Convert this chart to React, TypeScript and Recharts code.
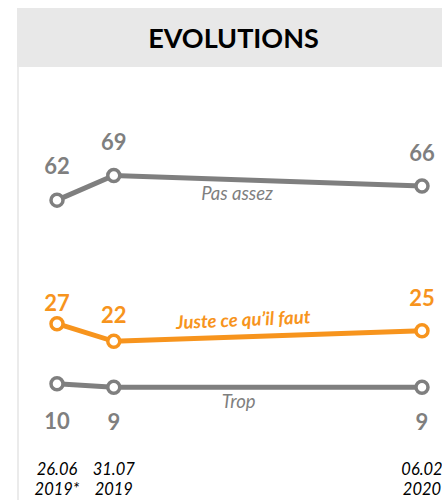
import React from 'react';
import { LineChart, Line, XAxis, YAxis, LabelList, ReferenceDot } from 'recharts';

// survey dates
const dates = ['2019-06-26', '2019-07-31', '2020-02-06'];
const tickDays = ['26.06', '31.07', '06.02'];
const tickYears = ['2019*', '2019', '2020'];

const pasAssez = [62, 69, 66];
const justeCeQuilFaut = [27, 22, 25];
const trop = [10, 9, 9];

// series names written on the chart, placed at a date / value
const seriesNames = ['Pas assez', 'Juste ce qu\u2019il faut', 'Trop'];
const seriesNameDates = ['2019-10-15', '2019-10-19', '2019-10-16'];
const seriesNameValues = [62, 26.3, 3.1];

const GRAY = '#7f7f7f';
const ORANGE = '#f7941d';
const FONT = 'Lato, "Open Sans", sans-serif';

const toTime = (d: string) => Date.parse(d + 'T00:00:00Z');
const times = dates.map(toTime);

const chartData = times.map((t, i) => ({
  t,
  pasAssez: pasAssez[i],
  juste: justeCeQuilFaut[i],
  trop: trop[i],
}));

const valueLabel = (color: string, dys: number[]) => (props: any) => {
  const { x, y, value, index } = props;
  return (
    <text x={x} y={y + dys[index]} textAnchor="middle" fill={color}
      fontFamily={FONT} fontWeight={700} fontSize={22}>
      {value}
    </text>
  );
};

const DateTick = (props: any) => {
  const { x, y, index } = props;
  return (
    <g>
      <text x={x} y={y + 56} textAnchor="middle" fill="#000" fontFamily={FONT} fontStyle="italic" fontSize={16.5}>
        {tickDays[index]}
      </text>
      <text x={x} y={y + 76} textAnchor="middle" fill="#000" fontFamily={FONT} fontStyle="italic" fontSize={16.5}>
        {tickYears[index]}
      </text>
    </g>
  );
};

const nameStyles = [
  { fill: GRAY, weight: 400, size: 18.5, rotate: 0 },
  { fill: ORANGE, weight: 700, size: 18.5, rotate: -2.5 },
  { fill: GRAY, weight: 400, size: 18.5, rotate: 0 },
];

export default function App() {
  const dot = (c: string) => ({ r: 6, strokeWidth: 3.5, fill: '#fff', stroke: c });
  return (
    <div style={{ position: 'absolute', left: 0, top: 0, width: 442, height: 500, overflow: 'hidden' }}>
      <div style={{ position: 'absolute', left: 8, top: 8, width: 434, height: 492 }}>
        <div style={{
          position: 'absolute', left: 9, top: 0, width: 425, height: 59, background: '#e8e8e8',
          display: 'flex', alignItems: 'center', justifyContent: 'center',
          fontFamily: FONT, fontWeight: 700, fontSize: 27, color: '#000', paddingLeft: 8, boxSizing: 'border-box',
        }}>
          EVOLUTIONS
        </div>
        <div style={{ position: 'absolute', left: 9, top: 59, width: 2, height: 433, background: '#ebebeb' }} />
        <div style={{ position: 'absolute', left: 0, top: 0 }}>
          <LineChart width={434} height={492} data={chartData} margin={{ top: 58, right: 20, left: 49, bottom: 0 }}>
            <XAxis dataKey="t" type="number" scale="time" domain={[times[0], times[2]]} ticks={times}
              axisLine={false} tickLine={false} tickSize={0} tickMargin={0} height={81}
              tick={<DateTick />} interval={0} />
            <YAxis hide domain={[0, 100]} />
            <Line dataKey="pasAssez" stroke={GRAY} strokeWidth={5} dot={dot(GRAY)} activeDot={false} isAnimationActive={false}>
              <LabelList dataKey="pasAssez" content={valueLabel(GRAY, [-26, -25, -25])} />
            </Line>
            <Line dataKey="juste" stroke={ORANGE} strokeWidth={5} dot={dot(ORANGE)} activeDot={false} isAnimationActive={false}>
              <LabelList dataKey="juste" content={valueLabel(ORANGE, [-13, -18, -25])} />
            </Line>
            <Line dataKey="trop" stroke={GRAY} strokeWidth={5} dot={dot(GRAY)} activeDot={false} isAnimationActive={false}>
              <LabelList dataKey="trop" content={valueLabel(GRAY, [45, 43, 43])} />
            </Line>
            {seriesNames.map((name, i) => (
              <ReferenceDot key={name} x={toTime(seriesNameDates[i])} y={seriesNameValues[i]} r={0}
                shape={(p: any) => (
                  <text x={p.cx} y={p.cy} textAnchor="middle" fill={nameStyles[i].fill}
                    fontFamily={FONT} fontStyle="italic" fontWeight={nameStyles[i].weight} fontSize={nameStyles[i].size}
                    transform={`rotate(${nameStyles[i].rotate} ${p.cx} ${p.cy})`}>
                    {name}
                  </text>
                )} />
            ))}
          </LineChart>
        </div>
      </div>
    </div>
  );
}
